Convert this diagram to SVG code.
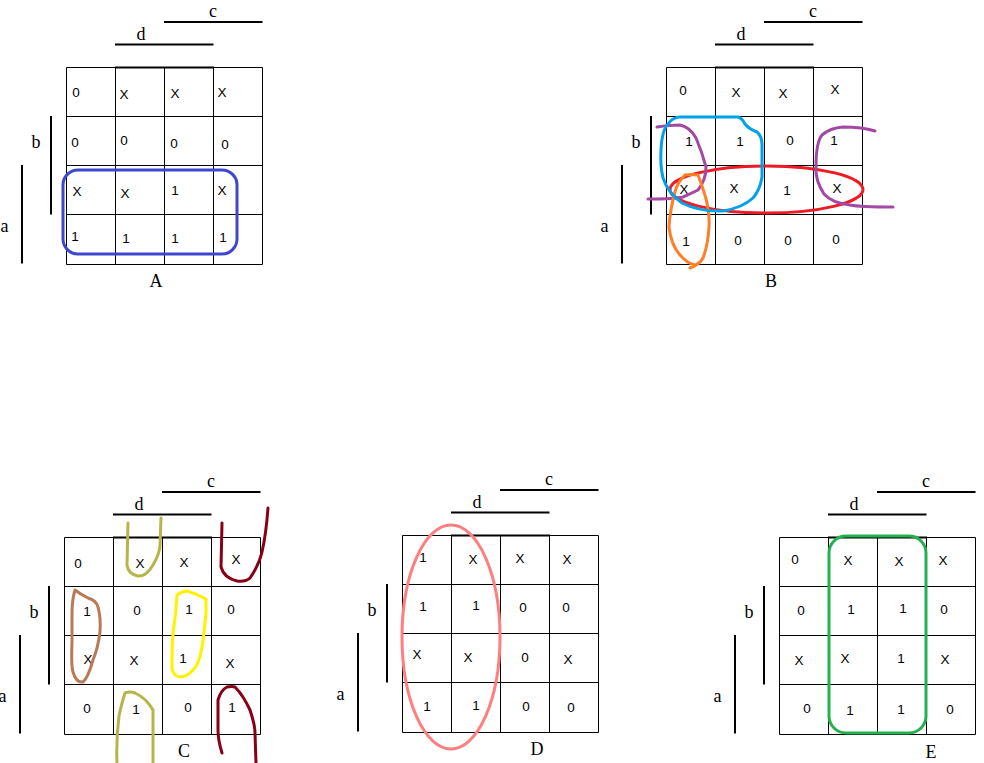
<svg xmlns="http://www.w3.org/2000/svg" width="984" height="763" viewBox="0 0 984 763">
<style>
.g{fill:none;stroke:#000;stroke-width:1}
.t{fill:none;stroke:#000;stroke-width:2}
.l{font-family:"Liberation Serif",serif;font-size:18px;fill:#000;text-anchor:middle}
.v{font-family:"Liberation Sans",Arial,sans-serif;font-size:13.500px;fill:#000;text-anchor:middle}
.s{fill:none;stroke-width:3;stroke-linejoin:round;stroke-linecap:round}
</style>
<defs>
<g id="kmap">
<path class="g" d="M.5 .5H196.5V197.5H.5ZM49.5 .5V197.5M98.5 .5V197.5M147.5 .5V197.5M.5 49.5H196.5M.5 98.5H196.5M.5 147.5H196.5"/>
<path class="t" d="M49 .5H148M98 -45H196.500M49 -22.500H147.500M-15 49V147.500M-44 98V196.500"/>
</g>
</defs>
<rect width="984" height="763" fill="#fff"/>
<g id="map-a">
<use href="#kmap" x="66" y="67"/>
<g class="l"><text x="213" y="17">c</text><text x="141" y="40">d</text><text x="36" y="148">b</text><text x="4.500" y="232">a</text><text x="156" y="287">A</text></g>
<g class="v">
<text x="76" y="97">0</text><text x="124" y="99">X</text><text x="175" y="98">X</text><text x="222" y="97">X</text>
<text x="75" y="147">0</text><text x="124" y="145">0</text><text x="174" y="148">0</text><text x="225" y="149">0</text>
<text x="77" y="196">X</text><text x="125" y="198">X</text><text x="175" y="195">1</text><text x="222" y="195">X</text>
<text x="75" y="241">1</text><text x="126" y="243">1</text><text x="175" y="243">1</text><text x="223" y="242">1</text>
</g>
<rect class="s" x="63" y="170" width="174" height="84" rx="15" stroke="#3f48cc"/>
</g>
<g id="map-b">
<use href="#kmap" x="666" y="67"/>
<g class="l"><text x="813" y="17">c</text><text x="741" y="40">d</text><text x="636" y="148">b</text><text x="604.500" y="232">a</text><text x="771" y="287">B</text></g>
<g class="v">
<text x="683" y="95">0</text><text x="736" y="97">X</text><text x="783" y="98">X</text><text x="835" y="94">X</text>
<text x="689" y="146">1</text><text x="740" y="146">1</text><text x="790" y="145">0</text><text x="834" y="145">1</text>
<text x="684" y="194">X</text><text x="734" y="193">X</text><text x="787" y="195">1</text><text x="837" y="193">X</text>
<text x="686" y="246">1</text><text x="738" y="245">0</text><text x="788" y="245">0</text><text x="836" y="244">0</text>
</g>
<ellipse class="s" cx="766.500" cy="189.500" rx="96.500" ry="23.500" stroke="#ed1c24"/>
<path class="s" stroke="#a349a4" d="M657 127Q670 125 680 125Q690 127 696 138Q702 152 706 167Q706 180 698 190Q690 194 683 197Q675 199 648 199"/>
<path class="s" stroke="#a349a4" d="M875 131Q862 127 843 127Q830 128 822 135Q816 142 816 167Q815 180 824 194Q832 203 850 205Q860 207 893 207"/>
<path class="s" stroke="#ff7f27" d="M690 268Q700 264 703 258Q708 245 709 227Q710 210 704 192Q700 180 698 175Q690 174 685 175Q677 183 675 192Q670 210 669 227Q671 245 680 255Q688 264 695 265"/>
<path class="s" stroke="#00a2e8" d="M680 117H738Q742 118 745 124Q749 129 757 132Q762 136 762 145V177Q760 190 753 198Q742 208 723 211Q700 212 682 203Q668 193 663 178Q660 165 661 150Q662 130 668 124Q673 117 680 117Z"/>
</g>
<g id="map-c">
<use href="#kmap" x="64" y="537"/>
<g class="l"><text x="211" y="487">c</text><text x="139" y="510">d</text><text x="34" y="618">b</text><text x="2.500" y="702">a</text><text x="184" y="757">C</text></g>
<g class="v">
<text x="78" y="568">0</text><text x="140" y="568">X</text><text x="184" y="567">X</text><text x="236" y="564">X</text>
<text x="87" y="616">1</text><text x="137" y="615">0</text><text x="189" y="614">1</text><text x="231" y="614">0</text>
<text x="88" y="664">X</text><text x="134" y="665">X</text><text x="183" y="663">1</text><text x="230" y="668">X</text>
<text x="87" y="713">0</text><text x="136" y="714">1</text><text x="188" y="712">0</text><text x="232" y="712">1</text>
</g>
<path class="s" stroke="#b5b54a" d="M128 523L127 565Q128 574 138 576Q146 577 153 565Q160 553 160 545L161 518"/>
<path class="s" stroke="#880015" d="M222 523L221 567Q224 578 237 581Q246 582 250 578Q259 565 262 552Q266 535 268 508"/>
<path class="s" stroke="#b97a57" d="M75 590Q80 594 88 598Q96 600 98 607Q101 618 100 632Q98 648 93 660Q88 678 83 682Q76 683 73 672Q71 665 72 643L72 613Q72 600 75 590Z"/>
<path class="s" stroke="#fff200" d="M177 595Q182 591 187 591Q197 594 206 599V613Q204 635 202 647Q199 665 193 670Q187 677 180 677Q173 676 172 668Q172 645 173 633Q176 615 177 595Z"/>
<path class="s" stroke="#b5b54a" d="M117 763Q116 740 119 716Q122 702 125 693Q130 691 135 693Q146 698 153 710L153 763"/>
<path class="s" stroke="#880015" d="M222 753Q218 740 218 730V700Q221 690 227 687Q232 686 235 687Q243 695 250 710Q255 725 255 733L256 763"/>
</g>
<g id="map-d">
<use href="#kmap" x="402" y="535"/>
<g class="l"><text x="549" y="485">c</text><text x="477" y="508">d</text><text x="372" y="616">b</text><text x="340.500" y="700">a</text><text x="537" y="755">D</text></g>
<g class="v">
<text x="423" y="562">1</text><text x="473" y="564">X</text><text x="520" y="563">X</text><text x="567" y="564">X</text>
<text x="423" y="611">1</text><text x="476" y="610">1</text><text x="523" y="612">0</text><text x="566" y="612">0</text>
<text x="417" y="659">X</text><text x="468" y="662">X</text><text x="525" y="662">0</text><text x="568" y="664">X</text>
<text x="427" y="711">1</text><text x="476" y="710">1</text><text x="526" y="711">0</text><text x="571" y="712">0</text>
</g>
<ellipse class="s" cx="451" cy="637" rx="49" ry="112" stroke="#ff7f7f"/>
</g>
<g id="map-e">
<use href="#kmap" x="779" y="537"/>
<g class="l"><text x="926" y="487">c</text><text x="854" y="510">d</text><text x="749" y="618">b</text><text x="717.500" y="702">a</text><text x="931" y="758">E</text></g>
<g class="v">
<text x="795" y="564">0</text><text x="848" y="565">X</text><text x="899" y="566">X</text><text x="943" y="565">X</text>
<text x="801" y="615">0</text><text x="851" y="614">1</text><text x="903" y="613">1</text><text x="944" y="614">0</text>
<text x="799" y="665">X</text><text x="845" y="663">X</text><text x="901" y="663">1</text><text x="945" y="664">X</text>
<text x="807" y="713">0</text><text x="850" y="715">1</text><text x="901" y="714">1</text><text x="950" y="714">0</text>
</g>
<rect class="s" x="829" y="536" width="97" height="197" rx="17" stroke="#22b14c"/>
</g>
</svg>
